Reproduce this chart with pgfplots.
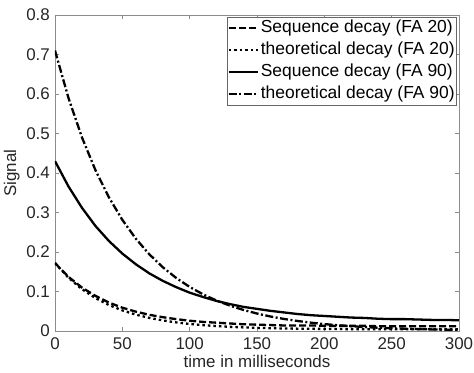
\documentclass[border=0pt]{standalone}
\usepackage{fontspec}
\setmainfont{Liberation Sans}
\usepackage{pgfplots}
\usepackage{pgfplotstable}
\pgfplotsset{compat=1.18}

% t  seqFA20  theoFA20  seqFA90  theoFA90
\pgfplotstableread{
t   seq20   theo20  seq90   theo90
0   0.172   0.1720  0.430   0.7100
10  0.137   0.1349  0.366   0.5900
20  0.110   0.1059  0.312   0.4903
30  0.089   0.0834  0.266   0.4075
40  0.072   0.0658  0.228   0.3386
50  0.059   0.0522  0.196   0.2814
60  0.049   0.0415  0.169   0.2338
70  0.041   0.0332  0.146   0.1943
80  0.035   0.0268  0.127   0.1615
90  0.030   0.0217  0.111   0.1342
100 0.026   0.0178  0.097   0.1115
110 0.023   0.0147  0.086   0.0927
120 0.021   0.0124  0.076   0.0770
130 0.019   0.0105  0.068   0.0640
140 0.017   0.0091  0.061   0.0532
150 0.016   0.0079  0.056   0.0442
160 0.015   0.0070  0.051   0.0367
170 0.014   0.0063  0.047   0.0305
180 0.014   0.0059  0.043   0.0254
190 0.014   0.0055  0.040   0.0211
200 0.013   0.0052  0.038   0.0175
210 0.013   0.0049  0.036   0.0146
220 0.013   0.0047  0.034   0.0121
230 0.013   0.0046  0.033   0.0100
240 0.012   0.0044  0.031   0.0083
250 0.012   0.0043  0.030   0.0069
260 0.012   0.0043  0.030   0.0058
270 0.012   0.0042  0.029   0.0048
280 0.012   0.0042  0.028   0.0040
290 0.012   0.0041  0.028   0.0033
300 0.012   0.0041  0.027   0.0027
}\datatable

\begin{document}
\begin{tikzpicture}
\begin{axis}[
  scale only axis,
  width=404bp, height=316bp,
  xmin=0, xmax=300, ymin=0, ymax=0.8,
  xtick={0,50,...,300},
  ytick={0,0.1,...,0.8},
  yticklabels={0,0.1,0.2,0.3,0.4,0.5,0.6,0.7,0.8},
  tick align=inside,
  xtick pos=both, ytick pos=both,
  major tick length=4bp,
  every tick/.style={black!45, line width=0.6bp},
  axis line style={black!45, line width=0.8bp},
  /pgf/number format/assume math mode=true,
  tick label style={font=\fontsize{17}{20}\selectfont, text=black!85},
  xticklabel style={anchor=north, inner sep=0pt, yshift=-6bp},
  yticklabel style={anchor=east, inner sep=0pt, xshift=-5bp},
  xlabel={time in milliseconds},
  ylabel={Signal},
  label style={font=\fontsize{17}{20}\selectfont, text=black!85},
  xlabel style={at={(axis description cs:0.5,-0.116)}, anchor=base, inner sep=0pt},
  ylabel style={at={(axis description cs:-0.087,0.5)}, rotate=0, anchor=south, inner sep=0pt},
  legend cell align=left,
  legend style={at={(axis description cs:0.995,0.994)}, anchor=north east,
    draw=black!60, line width=0.6bp, fill=white,
    font=\fontsize{17.5}{20}\selectfont,
    inner sep=0pt, row sep=0pt,
    nodes={text height=13bp, text depth=4bp, inner ysep=2.5bp, inner xsep=2bp}},
  legend image code/.code={\draw[#1] (0bp,0bp) -- (29bp,0bp);},
]
\addplot[black, line width=2.3bp, dash pattern=on 7bp off 3bp] table[x=t, y=seq20] {\datatable};
\addlegendentry{Sequence decay (FA 20)}
\addplot[black, line width=2.3bp, dash pattern=on 2.5bp off 3bp] table[x=t, y=theo20] {\datatable};
\addlegendentry{theoretical decay (FA 20)}
\addplot[black, line width=2.3bp] table[x=t, y=seq90] {\datatable};
\addlegendentry{Sequence decay (FA 90)}
\addplot[black, line width=2.3bp, dash pattern=on 8bp off 2.5bp on 2bp off 2.5bp] table[x=t, y=theo90] {\datatable};
\addlegendentry{theoretical decay (FA 90)}
\end{axis}
\pgfresetboundingbox
\path[use as bounding box] ([shift={(-55bp,-42bp)}]current axis.south west) rectangle ([shift={(15bp,15bp)}]current axis.north east);
\end{tikzpicture}
\end{document}
